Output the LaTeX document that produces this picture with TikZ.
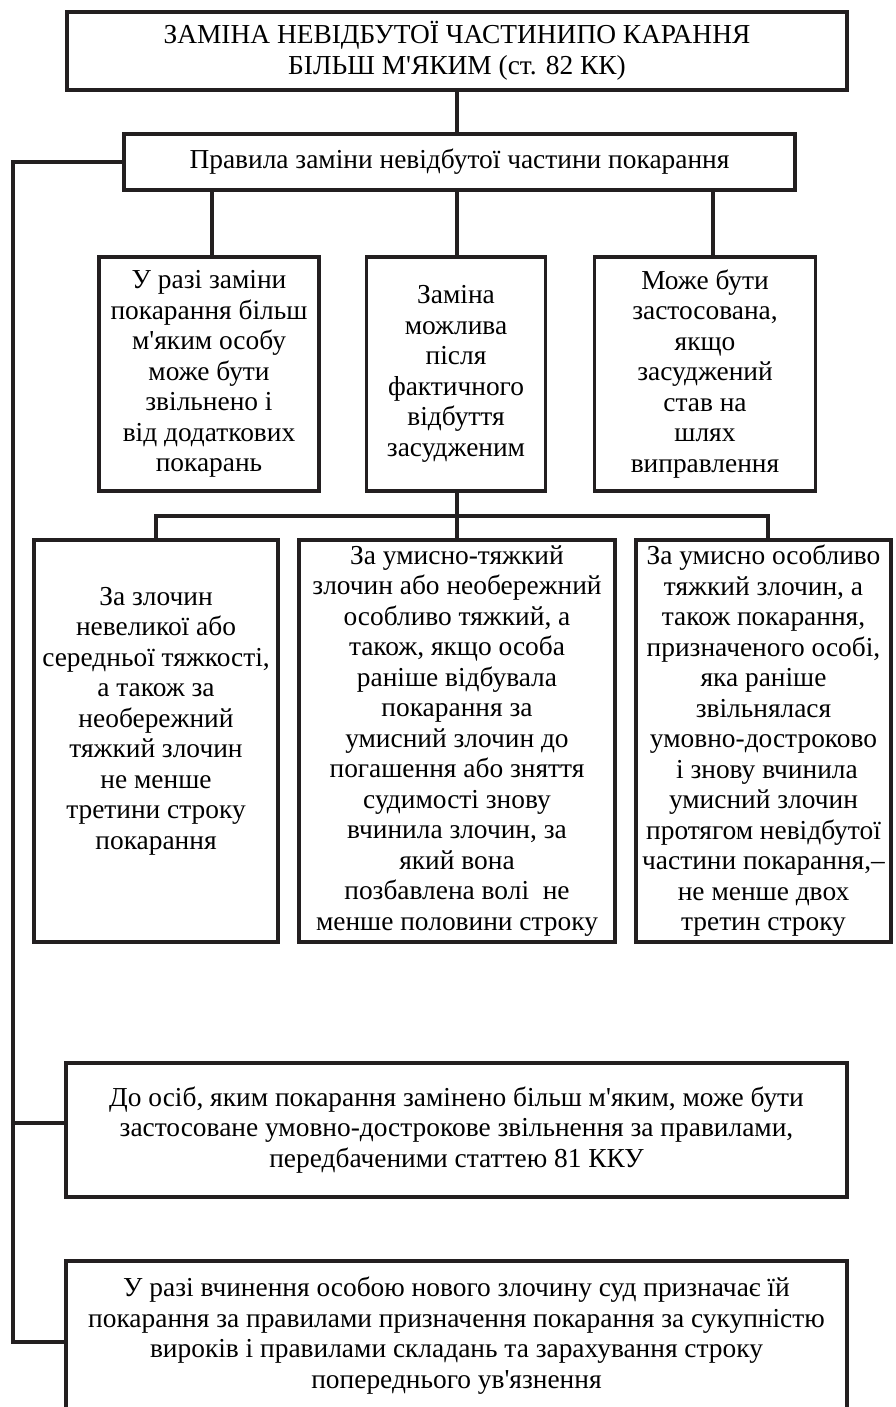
\documentclass[tikz,border=0pt]{standalone}
\usepackage{fontspec}
\setmainfont{Liberation Serif}[Ligatures=TeXOff]
\usetikzlibrary{calc}
\definecolor{ink}{HTML}{231F20}
\begin{document}
\begin{tikzpicture}[x=1pt,y=-1pt,
  box/.style={draw=ink, line width=3.3pt, line join=miter, inner sep=0pt, align=center,
    font=\fontsize{27.4}{30.5}\selectfont},
  txt/.style={inner sep=0pt, align=center, font=\fontsize{27.4}{30.5}\selectfont},
  conn/.style={draw=ink, line width=3.3pt, line join=miter}]
\useasboundingbox (0,0) rectangle (895,1407);
\fill[white] (0,0) rectangle (895,1407);

\node[box, minimum width=780pt, minimum height=78pt] (top) at (457,51)
  {ЗАМІНА НЕВІДБУТОЇ ЧАСТИНИПО КАРАННЯ\\БІЛЬШ М'ЯКИМ (ст. 82 КК)};
\node[box, minimum width=671pt, minimum height=56pt] (rules) at (459.5,162)
  {Правила заміни невідбутої частини покарання};

\node[box, minimum width=220pt, minimum height=234pt] (A) at (209,374)
  {У разі заміни\\покарання більш\\м'яким особу\\може бути\\звільнено і\\від додаткових\\покарань};
\node[box, minimum width=179pt, minimum height=234pt] (B) at (456,374)
  {Заміна\\можлива\\після\\фактичного\\відбуття\\засудженим};
\node[box, minimum width=221pt, minimum height=234pt] (C) at (705,374)
  {Може бути\\застосована,\\якщо\\засуджений\\став на\\шлях\\виправлення};

\node[box, minimum width=244pt, minimum height=402pt] (D) at (156,741) {};
\node[txt] (Dt) at ([yshift=20pt]D.center)
  {За злочин\\невеликої або\\середньої тяжкості,\\а також за\\необережний\\тяжкий злочин\\не менше\\третини строку\\покарання};
\node[box, minimum width=316pt, minimum height=402pt] (E) at (457,741)
  {За умисно-тяжкий\\злочин або необережний\\особливо тяжкий, а\\також, якщо особа\\раніше відбувала\\покарання за\\умисний злочин до\\погашення або зняття\\судимості знову\\вчинила злочин, за\\який вона\\позбавлена волі\ \ не\\менше половини строку};
\node[box, minimum width=255pt, minimum height=402pt] (F) at (763.5,741)
  {За умисно особливо\\тяжкий злочин, а\\також покарання,\\призначеного особі,\\яка раніше\\звільнялася\\умовно-достроково\\\ і знову вчинила\\умисний злочин\\протягом невідбутої\\частини покарання,–\\не менше двох\\третин строку};

\node[box, minimum width=781pt, minimum height=134pt] (G) at (456.5,1130)
  {До осіб, яким покарання замінено більш м'яким, може бути\\застосоване умовно-дострокове звільнення за правилами,\\передбаченими статтею 81 ККУ};
\node[box, minimum width=781pt, minimum height=149pt] (H) at (456.5,1335.5)
  {У разі вчинення особою нового злочину суд призначає їй\\покарання за правилами призначення покарання за сукупністю\\вироків і правилами складань та зарахування строку\\попереднього ув'язнення};

% connectors
\draw[conn] (top.south) -- (top.south |- rules.north);
\draw[conn] ([xshift=3pt]A.north) -- ([xshift=3pt]A.north |- rules.south);
\draw[conn] ([xshift=1pt]B.north) -- ([xshift=1pt]B.north |- rules.south);
\draw[conn] ([xshift=8pt]C.north) -- ([xshift=8pt]C.north |- rules.south);

\coordinate (bar) at (457,516);
\draw[conn] (B.south -| bar) -- (E.north -| bar);
\draw[conn] (D.north) |- (bar) -| ([xshift=4.5pt]F.north);

\coordinate (lt) at (13,162);
\coordinate (lb) at (13,1342);
\draw[conn] (rules.west) -- (lt) -- (lb) -- (lb -| H.west);
\draw[conn] (lt |- 0,1123) -- (G.west |- 0,1123);
\end{tikzpicture}
\end{document}
